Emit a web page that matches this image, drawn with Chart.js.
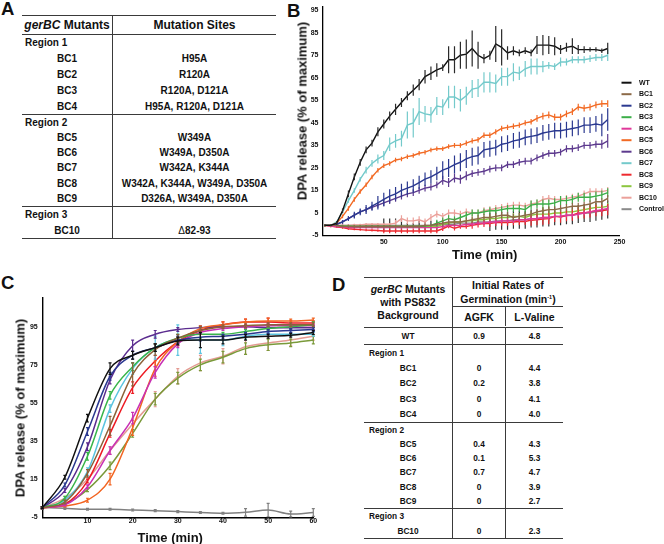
<!DOCTYPE html>
<html><head><meta charset="utf-8">
<script src="https://cdn.jsdelivr.net/npm/chart.js@4.4.1/dist/chart.umd.min.js"></script>
<style>
html,body{margin:0;padding:0;background:#fff;}
body{width:664px;height:544px;position:relative;overflow:hidden;font-family:"Liberation Sans",Arial,Helvetica,sans-serif;color:#111;}
.plabel{position:absolute;font-weight:bold;font-size:18.5px;line-height:1;}
.axt{position:absolute;font-weight:bold;font-size:13px;line-height:1;white-space:nowrap;transform:translate(-50%,-50%);}
.axt.rot{transform:translate(-50%,-50%) rotate(-90deg);}
canvas{position:absolute;}
.tbl{position:absolute;font-weight:bold;}
.blk{box-sizing:content-box;border-top:1.5px solid #3a3a3a;}
.blk.last{border-bottom:1.5px solid #3a3a3a;}
.row{display:flex;}
.cell{display:flex;align-items:center;justify-content:center;box-sizing:border-box;height:100%;white-space:nowrap;}
.lft{justify-content:flex-start;}
.div{border-right:1px solid #3a3a3a;}
#tblA{left:22px;top:15.25px;width:254px;font-size:10px;}
#tblD{left:364px;top:277.25px;width:199px;font-size:8.3px;}
sup{font-size:5.5px;vertical-align:4px;}
</style>
</head><body>
<div class="plabel" style="left:1px;top:-0.5px">A</div>
<div class="plabel" style="left:287px;top:1.8px">B</div>
<div class="plabel" style="left:1px;top:274.3px">C</div>
<div class="plabel" style="left:332px;top:275.9px">D</div>

<div id="tblA" class="tbl"></div>
<div id="tblD" class="tbl"></div>

<canvas id="chartB" width="394" height="262" style="left:270px;top:0px"></canvas>
<canvas id="chartC" width="330" height="274" style="left:0px;top:270px"></canvas>

<div class="axt rot" style="left:301.5px;top:111px">DPA release (% of maximum)</div>
<div class="axt" style="left:484.7px;top:254px">Time (min)</div>
<div class="axt rot" style="left:20px;top:408px">DPA release (% of maximum)</div>
<div class="axt" style="left:170.2px;top:536.7px">Time (min)</div>

<script>
// ---------------- Table data ----------------
const regionNames = ['Region 1', 'Region 2', 'Region 3'];
const mutantNames = [['BC1','BC2','BC3','BC4'], ['BC5','BC6','BC7','BC8','BC9'], ['BC10']];
const mutationSites = [
  ['H95A','R120A','R120A, D121A','H95A, R120A, D121A'],
  ['W349A','W349A, D350A','W342A, K344A','W342A, K344A, W349A, D350A','D326A, W349A, D350A'],
  ['<span style="font-weight:normal">&Delta;</span>82-93']
];
const wtRates = ['0.9', '4.8'];
const agfkRates = [['0','0.2','0','0'], ['0.4','0.1','0.7','0','0'], ['0']];
const valineRates = [['4.4','3.8','4.1','4.0'], ['4.3','5.3','4.7','3.9','2.7'], ['2.3']];

// ---------------- Panel B data (AGFK) ----------------
const timeB = [0,5,10,15,20,25,30,35,40,45,50,55,60,65,70,75,80,85,90,95,100,105,110,115,120,125,130,135,140,145,150,155,160,165,170,175,180,185,190,195,200,205,210,215,220,225,230,235,240];
const xTicksB = [50,100,150,200,250];
const yTicksB = [-5,5,15,25,35,45,55,65,75,85,95];
const seriesNames = ['WT','BC1','BC2','BC3','BC4','BC5','BC6','BC7','BC8','BC9','BC10','Control'];

const wtB   = [-0.5,-0.5,0.5,6,13.5,21,27.5,33,36,41,44.5,48,51,54,57,59.5,62,65.5,67,68.5,69.5,73,73,75,75.5,78,75,73.5,75,80,78.5,76,77,76,77,76,79.5,79.5,79.5,79,77.5,78.5,79,77.5,77.5,77.5,77.5,77,78];
const wtErrB= [0.3,0.3,0.8,1,1.5,1.5,1.5,1.5,1.5,2,2,2,2.5,2,2,2.5,2.5,3,3,3,1.5,6,6,6,6.5,8,6,2,2,8,8,3,2,1.5,1.5,1.5,4,4.5,4,4,2,2,3.5,2,1.5,1,1,1,2.5];
const bc1B  = [-0.5,-0.5,-0.5,-1,-1,-1,-1,-1,-1,-1,-1,-1,-1,-1,-1,-1,-1,-0.5,-0.5,0,0.5,1,1,1,1.5,2,2.5,3,3,3.5,4,4,3,3.5,4,4.5,5.5,6,6.5,6.5,7,7.5,8,8,8.5,9,10,10,11.5];
const bc1ErrB=[0.5,0.5,0.5,0.5,0.5,0.5,0.5,0.5,0.5,0.5,0.5,0.5,0.5,0.5,0.5,0.5,0.5,0.5,0.5,0.5,1.5,1.5,1.5,1.5,1.5,1.5,1.5,1.5,1.5,1.5,1.5,1.5,1.5,1.5,1.5,1.5,1.5,1.5,1.5,1.5,1.5,1.5,1.5,1.5,1.5,1.5,1.5,1.5,1.5];
const bc2B  = [-0.5,-0.5,0,1,2.5,4,5.5,6.5,8,9.5,11,12.5,13.5,15,16,17,18.5,20,21,22.5,24,25,26.5,27.5,29,30,30.5,33,33.5,34,35.5,36,37,37.5,38.5,39,39.5,40.5,41,41.5,41.5,42,42.5,43,44,44,44.5,44,46.5];
const bc2ErrB=[0.3,0.3,0.5,0.8,1,1.5,1.5,2,2,3,3,3,3,3,3,3,3,3,3,3,4,4,4,4,4,4,4,3.5,3.5,3.5,3.5,3.5,3.5,3.5,3.5,3.5,3.5,3.5,3.5,3.5,3.5,3.5,3.5,3.5,3.5,3.5,3.5,5,5];
const bc3B  = [-0.5,-0.5,-0.5,-0.8,-0.8,-1,-1,-1,-1,-1,-1,-1,-1,-1,-1,-1,-1,-0.8,-0.5,0.5,1.5,2.5,2,3,4,5,5,5.5,6,6,6.5,7,7,7,6.5,8.5,9,9,9,9.5,10.5,10.5,11,12,12,12,12.5,13,14];
const bc3ErrB=[0.5,0.5,0.5,0.5,0.5,0.5,0.5,0.5,0.5,0.5,0.5,0.5,0.5,0.5,0.5,0.5,0.5,0.5,0.5,1.5,1.5,1.5,1.5,1.5,1.5,1.5,1.5,1.5,1.5,1.5,1.5,1.5,1.5,1.5,2,2,2,2,2,2,2,2,2,2,2,2,2,2,2];
const bc4B  = [-0.5,-0.8,-1,-1.2,-1.5,-1.5,-1.5,-1.5,-1.5,-1.5,-1.5,-1.5,-1.5,-1.5,-1.5,-1.5,-1.5,-1.5,-1.5,-1.5,-1,-0.5,-0.5,-0.5,0,0,0.5,0.5,1,1,1.5,1.5,1.5,2,2,2.5,2.5,3,3,3.5,3.5,4,4,4.5,5,5.5,6,6.5,7];
const bc4ErrB=[0.5,0.5,0.5,0.5,0.5,0.5,0.5,0.5,0.5,0.5,0.5,0.5,0.5,0.5,0.5,0.5,0.5,0.5,0.5,0.5,1,1,1,1,1,1,1,1,1,1,1,1,1,1,1,1,1,1,1,1,1,1,1,1,1,1,1,1,1];
const bc5B  = [-0.5,-0.5,0.5,3.5,7,11,14.5,17.5,21,24,26,27,28.5,29,30,30.5,31.5,32,33,33.5,33.5,34.5,35,35,36,37,37.5,39.5,39.5,41,42.5,43,43.5,44,45,45.5,47,48,48.5,47.5,47.5,49,50,52,51.5,52,53,53.5,53.5];
const bc5ErrB=[0.3,0.3,0.5,0.8,1,1,1,1,1,1,1,1,1,1,1,1,1,1,1,1,1,1,1,1,1.2,1.2,1.2,1.2,1.2,1.2,1.2,1.2,1.2,1.2,1.2,1.2,1.5,1.5,1.5,1.5,1.5,1.5,1.5,1.5,1.5,1.5,1.5,1.5,1.5];
const bc6B  = [-0.5,-0.5,0,1,2.5,4,5.5,6.5,7.5,8.5,9.5,10.5,11.5,12.5,13.5,14,15,16,16.5,17.5,19.5,18.5,20.5,20,21.5,22.5,23,23.5,24.5,25,25,26.5,26.5,27.5,28,28,29.5,30.5,31.5,31.5,32,33.5,33.5,34,35,35,35.5,35.5,37];
const bc6ErrB=[0.3,0.3,0.5,0.8,1,1,1,1.2,1.2,1.2,1.5,1.5,1.5,1.5,1.5,1.5,1.5,1.5,1.5,1.5,2,2,2,2,2,1.5,1.5,1.5,1.5,1.5,1.5,1.5,1.5,1.5,1.5,1.5,1.5,1.5,1.5,1.5,1.5,1.5,1.5,1.5,1.5,1.5,1.5,2,3];
const bc7B  = [-0.5,-0.5,1,5.5,10.5,15,20,24,27,29,30.5,35.5,37,38,44,45,50,49,48.5,52.5,52,56.5,56.5,55,57,60,60.5,63,63,62.5,65.5,65.5,67.5,67,69,70,70,70,70.5,70,72,72,73,73,73,73.5,74,74,75];
const bc7ErrB=[0.3,0.3,0.5,0.8,1,1,1,1.5,1.5,2,2,3,3,3.5,6,6.5,6,3.5,3.5,4,3.5,5,5,5,4,4,4,4.5,4.5,4,4,4,4,3,3.5,3.5,3.5,2.5,1.5,1.5,2,1.5,1.5,1.5,1.5,1.5,1.5,1.5,2.5];
const bc8B  = [-0.5,-0.8,-1.2,-1.5,-2,-2.2,-2.4,-2.6,-2.7,-2.8,-3,-3,-3,-3,-3,-3,-3,-3,-3,-3,-2,-0.8,-1.8,-1,-1,-0.5,0,0.3,0.3,0.7,0.8,0.8,1,1.2,1.2,1.8,2,2.3,2.5,3.5,3.2,3.8,4,5,5,5.5,6,6,6.5];
const bc8ErrB=[0.5,0.5,0.5,0.5,0.5,0.5,0.5,0.5,0.5,0.5,1,1,1,1,1,1,1,1,1,1,1,1,1,1,1,1.5,1.5,1.5,1.5,1.5,1.5,1.5,1.5,1.5,1.5,2.5,2.5,2.5,2.5,2.5,2.5,2.5,2.5,2.5,2.5,2.5,2.5,2.5,2.5];
const bc9B  = [-0.5,-0.7,-0.8,-1,-1,-1,-1,-1,-1,-1,-1,-1,-1,-1,-1,-1,-1,-1,-1,-1,0,0.5,1,1,1.5,1.5,2,2,2.5,2.5,3,3,3.5,3.5,3,4,4.5,4.5,4.5,5,5,5.5,5.5,6,6.5,7,7.5,7.5,8];
const bc9ErrB=[0.5,0.5,0.5,0.5,0.5,0.5,0.5,0.5,0.5,0.5,0.5,0.5,0.5,0.5,0.5,0.5,0.5,0.5,0.5,0.5,1.5,1.5,1.5,1.5,1.5,1.5,1.5,1.5,1.5,1.5,1.5,1.5,1.5,1.5,1.5,1.5,1.5,3,3,1.5,1.5,1.5,1.5,1.5,1.5,1.5,1.5,1.5,1.5];
const bc10B = [-0.5,-0.5,-0.5,-0.5,-0.5,-0.3,-0.3,0,0,0,0,0,0.5,2.5,1.5,1.5,2,1,3,4.5,3.5,5,5,4.5,5.5,5,5,6,6.5,7,7.5,8,8.5,8.5,8,9,9.5,11,11.5,11,11,11.5,12,12.5,13.5,14.5,14.5,14.5,15];
const bc10ErrB=[0.5,0.5,0.5,0.5,0.5,0.5,0.5,0.5,0.5,0.5,0.5,0.5,1.5,1.5,1.5,1.5,1.5,1.5,1.5,1.5,1.5,1.5,1.5,1.5,1.5,1.5,1.5,1.5,1.5,1.5,1.5,1.5,1.5,1.5,1.5,1.5,1.5,1.5,1.5,1.5,1.5,1.5,1.5,1.5,1.5,1.5,1.5,1.5,1.5];
const ctrlB = [-0.5,-0.5,-0.5,-0.5,-0.5,-0.5,-0.5,-0.5,-0.5,-0.5,-0.5,-0.5,-0.5,-0.5,-0.5,-0.5,-0.5,-0.5,-0.5,-0.5,0,0,0,0.5,0.5,0.5,1,1,1,1.5,1.5,1.5,2,2,2,2.5,2.5,3,3,3.5,3.5,4,4,4.5,5,5,5.5,6,6.5];
const ctrlErrB=[0.5,0.5,0.5,0.5,0.5,0.5,0.5,0.5,0.5,0.5,3,3,3,3,1,1,2,2,2,2,1,1,1,1,1,1,1,1,4,4,4,4,4,4,4,4,4,4,4,4,4,4,4,4,4,4,4,4,4];

// ---------------- Panel C data (L-Valine) ----------------
const timeC = [0,5,10,15,20,25,30,35,40,45,50,55,60];
const xTicksC = [10,20,30,40,50,60];
const yTicksC = [-5,15,35,55,75,95];
const wtC   = [0,16,47,73,80,84,87.5,88,88,89.5,90,90.5,92];
const wtErrC= [0.5,1,2,3,2,2,2,4,2,1.5,1,1,1];
const bc1C  = [0,3,18,43,70,83,89,93,95,95.5,96,96,96];
const bc1ErrC=[0.5,1,2,5,6,3,2,2,1,1,1,1,1];
const bc2C  = [0,12,40,69,80,84,88,89.5,90,91,92.5,93,93.5];
const bc2ErrC=[0.5,1,2,2,2,2,2,2,1,1,1,1,1];
const bc3C  = [0,5,27,59,74,84,89,91,91,92.5,94,95,96];
const bc3ErrC=[0.5,1,2,2,2,2,2,2,1,1,1,1,1.5];
const bc4C  = [0,1.5,11,30,47,71,86,92,94,95,95.5,95.5,95.5];
const bc4ErrC=[0.5,0.5,1,2,3,3,2,1,1,1,1,1,1];
const bc5C  = [0,1,4,15,42,73,87,94,96,97.5,98,98,98.5];
const bc5ErrC=[0.5,0.5,1,3,4,4,2,1.5,1.5,1.5,1.5,1,1];
const bc6C  = [0,9,32,67,85,91,93.5,94.5,95,95,94.5,94.5,94.5];
const bc6ErrC=[0.5,1,2,2,3,2,1,1,1,1,1,1,1];
const bc7C  = [0,4,19,52,73,84,88,88,88,90,91,91,91];
const bc7ErrC=[0.5,1,2,2,3,6,8,7,3,1.5,1,1,1];
const bc8C  = [0,2,14,39,63,77,87,93,96,97.5,97.5,97,97];
const bc8ErrC=[0.5,1,1,2,3,3,2,2,1.5,1.5,2,1,1];
const bc9C  = [0,2,9.5,22,39,57,68,75,79,83.5,85.5,86.5,88];
const bc9ErrC=[0.5,0.5,1,2,2,3,3,3,3,3,3,2,2];
const bc10C = [0,5,15,30,44,57,69,76,79.5,84.5,86.5,88,90];
const bc10ErrC=[0.5,1,1.5,2,3,4,4,4,4,4,4,3,2];
const ctrlC = [0.25,-0.3,-0.8,-0.8,-1.2,-1.5,-2,-2.5,-2.9,-2.4,-1.2,-3.3,-2.5];
const ctrlErrC=[0.3,0.5,0.5,0.5,0.5,0.5,0.5,0.5,0.5,2,3.5,1.5,2];

// ---------------- Styles ----------------
const colorsB = ['#111111','#8c6a48','#2b3990','#3cae49','#e0389a','#f26a24','#5d3a8e','#74cacb','#ee2a2f','#8cc63f','#eba09a','#8a8a8a'];
const errColorsB = ['#2a2a2a','#8c6a48','#2b3990','#3cae49','#e0389a','#f26a24','#5d3a8e','#74cacb','#ee2a2f','#8cc63f','#eba09a','#333333'];
const colorsC = ['#111111','#8c6239','#2b3990','#39b54a','#c830b4','#f26522','#5b2c8f','#5bc4e0','#ed1c24','#7a9a3a','#e39b93','#808080'];

// ---------------- Tables ----------------
function buildTableA() {
  const rowH = [15.9, 15.08, 15.75];
  let h = '<div class="blk" style="height:17.5px"><div class="row" style="height:100%;font-size:12px">' +
    '<div class="cell div" style="width:91px"><i>gerBC</i>&nbsp;Mutants</div>' +
    '<div class="cell" style="width:163px">Mutation Sites</div></div></div>';
  regionNames.forEach((rn, gi) => {
    const last = gi === regionNames.length - 1;
    h += '<div class="blk' + (last ? ' last' : '') + '">';
    h += '<div class="row" style="height:' + rowH[gi] + 'px"><div class="cell div lft" style="width:91px;padding-left:3px">' + rn + '</div><div class="cell" style="width:163px"></div></div>';
    mutantNames[gi].forEach((m, i) => {
      h += '<div class="row" style="height:' + rowH[gi] + 'px"><div class="cell div" style="width:91px">' + m + '</div><div class="cell" style="width:163px">' + mutationSites[gi][i] + '</div></div>';
    });
    h += '</div>';
  });
  document.getElementById('tblA').innerHTML = h;
}
function buildTableD() {
  const rowH = [15.3, 14.2, 14.75];
  const c1 = 89, c2 = 53, c3 = 57;
  let h = '<div class="blk" style="height:48.5px"><div class="row" style="height:100%">' +
    '<div class="cell div" style="width:' + c1 + 'px;flex-direction:column;font-size:10.5px;line-height:13px;text-align:center"><div><i>gerBC</i> Mutants</div><div>with PS832</div><div>Background</div></div>' +
    '<div style="width:' + (c2 + c3) + 'px;display:flex;flex-direction:column">' +
      '<div class="cell" style="height:27.5px;flex-direction:column;font-size:10.5px;line-height:12.3px;text-align:center"><div>Initial Rates of</div><div>Germination (min<sup>-1</sup>)</div></div>' +
      '<div class="row" style="height:19.5px;border-top:1.5px solid #3a3a3a;font-size:10.5px"><div class="cell div" style="width:' + c2 + 'px">AGFK</div><div class="cell" style="width:' + c3 + 'px">L-Valine</div></div>' +
    '</div></div></div>';
  h += '<div class="blk" style="height:16.5px"><div class="row" style="height:100%"><div class="cell div" style="width:' + c1 + 'px">WT</div><div class="cell div" style="width:' + c2 + 'px">' + wtRates[0] + '</div><div class="cell" style="width:' + c3 + 'px">' + wtRates[1] + '</div></div></div>';
  regionNames.forEach((rn, gi) => {
    const last = gi === regionNames.length - 1;
    h += '<div class="blk' + (last ? ' last' : '') + '">';
    h += '<div class="row" style="height:' + rowH[gi] + 'px"><div class="cell div lft" style="width:' + c1 + 'px;padding-left:5px">' + rn + '</div><div class="cell div" style="width:' + c2 + 'px"></div><div class="cell" style="width:' + c3 + 'px"></div></div>';
    mutantNames[gi].forEach((m, i) => {
      h += '<div class="row" style="height:' + rowH[gi] + 'px"><div class="cell div" style="width:' + c1 + 'px">' + m + '</div><div class="cell div" style="width:' + c2 + 'px">' + agfkRates[gi][i] + '</div><div class="cell" style="width:' + c3 + 'px">' + valineRates[gi][i] + '</div></div>';
    });
    h += '</div>';
  });
  document.getElementById('tblD').innerHTML = h;
}
buildTableA();
buildTableD();

// ---------------- Charts ----------------
Chart.defaults.font.family = '"Liberation Sans", Arial, Helvetica, sans-serif';
Chart.defaults.color = '#111';

const errBarPlugin = {
  id: 'errbars',
  afterDatasetDraw(chart, args, opts) {
    const ds = chart.data.datasets[args.index];
    if (!ds.errors) return;
    const ys = chart.scales.y, ctx = chart.ctx, cap = opts.cap || 0;
    ctx.save();
    ctx.strokeStyle = ds.errorColor || ds.borderColor;
    ctx.lineWidth = opts.width || 1.2;
    ctx.beginPath();
    args.meta.data.forEach((pt, i) => {
      const e = ds.errors[i];
      if (!e) return;
      const v = ds.data[i].y;
      const y1 = ys.getPixelForValue(v - e), y2 = ys.getPixelForValue(v + e);
      ctx.moveTo(pt.x, y1); ctx.lineTo(pt.x, y2);
      if (cap) {
        ctx.moveTo(pt.x - cap, y1); ctx.lineTo(pt.x + cap, y1);
        ctx.moveTo(pt.x - cap, y2); ctx.lineTo(pt.x + cap, y2);
      }
    });
    ctx.stroke();
    ctx.restore();
  }
};

const sideLegend = {
  id: 'sideLegend',
  afterDraw(chart, args, o) {
    if (!o || !o.show) return;
    const ctx = chart.ctx, a = chart.chartArea;
    ctx.save();
    ctx.font = 'bold 7px "Liberation Sans", Arial, sans-serif';
    ctx.textBaseline = 'middle';
    ctx.textAlign = 'left';
    chart.data.datasets.forEach((ds, i) => {
      const y = o.top + i * o.step;
      ctx.strokeStyle = ds.borderColor; ctx.lineWidth = 2;
      ctx.beginPath(); ctx.moveTo(a.right + o.gap, y); ctx.lineTo(a.right + o.gap + o.len, y); ctx.stroke();
      ctx.fillStyle = '#111';
      ctx.fillText(ds.label, a.right + o.gap + o.len + o.textGap, y);
    });
    ctx.restore();
  }
};

function makeSets(times, vals, errs, colors, errColors, tension) {
  return vals.map((arr, k) => ({
    label: seriesNames[k],
    data: arr.map((v, i) => ({x: times[i], y: v})),
    errors: errs[k],
    borderColor: colors[k],
    backgroundColor: colors[k],
    errorColor: errColors[k],
    cubicInterpolationMode: tension ? 'monotone' : 'default',
    tension: 0
  }));
}

const tickFont = {size: 7, weight: 'bold'};

new Chart(document.getElementById('chartB'), {
  type: 'line',
  data: {
    datasets: makeSets(timeB,
      [wtB, bc1B, bc2B, bc3B, bc4B, bc5B, bc6B, bc7B, bc8B, bc9B, bc10B, ctrlB],
      [wtErrB, bc1ErrB, bc2ErrB, bc3ErrB, bc4ErrB, bc5ErrB, bc6ErrB, bc7ErrB, bc8ErrB, bc9ErrB, bc10ErrB, ctrlErrB],
      colorsB, errColorsB, false)
  },
  options: {
    responsive: false, animation: false, devicePixelRatio: 1,
    layout: {padding: {left: 0, right: 44.5, top: 6.8, bottom: 0}},
    elements: {line: {borderWidth: 1.4}, point: {radius: 0, hoverRadius: 0}},
    plugins: {legend: {display: false}, tooltip: {enabled: false},
      errbars: {width: 1.2, cap: 0},
      sideLegend: {show: true, top: 82.7, step: 11.5, gap: 2, len: 10, textGap: 7.5}},
    scales: {
      x: {type: 'linear', min: -2, max: 250,
        afterBuildTicks: ax => { ax.ticks = xTicksB.map(v => ({value: v})); },
        afterFit: ax => { ax.height = 26.5; },
        grid: {display: false, drawTicks: false},
        border: {display: true, color: '#000', width: 1.3},
        ticks: {padding: 2, font: tickFont, color: '#111', maxRotation: 0, autoSkip: false}},
      y: {type: 'linear', min: -5, max: 96.5,
        afterBuildTicks: ax => { ax.ticks = yTicksB.map(v => ({value: v})); },
        afterFit: ax => { ax.width = 52.5; },
        grid: {display: true, drawOnChartArea: false, drawTicks: true, tickLength: 4, color: 'rgba(0,0,0,0)'},
        border: {display: true, color: '#000', width: 1.3},
        ticks: {padding: 0, font: tickFont, color: '#111', autoSkip: false}}
    }
  },
  plugins: [errBarPlugin, sideLegend]
});

new Chart(document.getElementById('chartC'), {
  type: 'line',
  data: {
    datasets: makeSets(timeC,
      [wtC, bc1C, bc2C, bc3C, bc4C, bc5C, bc6C, bc7C, bc8C, bc9C, bc10C, ctrlC],
      [wtErrC, bc1ErrC, bc2ErrC, bc3ErrC, bc4ErrC, bc5ErrC, bc6ErrC, bc7ErrC, bc8ErrC, bc9ErrC, bc10ErrC, ctrlErrC],
      colorsC, colorsC, true)
  },
  options: {
    responsive: false, animation: false, devicePixelRatio: 1,
    layout: {padding: {left: 0, right: 16.7, top: 28.1, bottom: 0}},
    elements: {line: {borderWidth: 1.5}, point: {radius: 0, hoverRadius: 0}},
    plugins: {legend: {display: false}, tooltip: {enabled: false},
      errbars: {width: 1.2, cap: 1.5},
      sideLegend: {show: false}},
    scales: {
      x: {type: 'linear', min: 0, max: 60,
        afterBuildTicks: ax => { ax.ticks = xTicksC.map(v => ({value: v})); },
        afterFit: ax => { ax.height = 26.7; },
        grid: {display: false, drawTicks: false},
        border: {display: true, color: '#000', width: 1.4},
        ticks: {padding: 0, font: tickFont, color: '#111', maxRotation: 0, autoSkip: false}},
      y: {type: 'linear', min: -5, max: 110,
        afterBuildTicks: ax => { ax.ticks = yTicksC.map(v => ({value: v})); },
        afterFit: ax => { ax.width = 42.3; },
        grid: {display: true, drawOnChartArea: false, drawTicks: true, tickLength: 4.6, color: 'rgba(0,0,0,0)'},
        border: {display: true, color: '#000', width: 1.4},
        ticks: {padding: 0, font: tickFont, color: '#111', autoSkip: false}}
    }
  },
  plugins: [errBarPlugin, sideLegend]
});
</script>
</body></html>
